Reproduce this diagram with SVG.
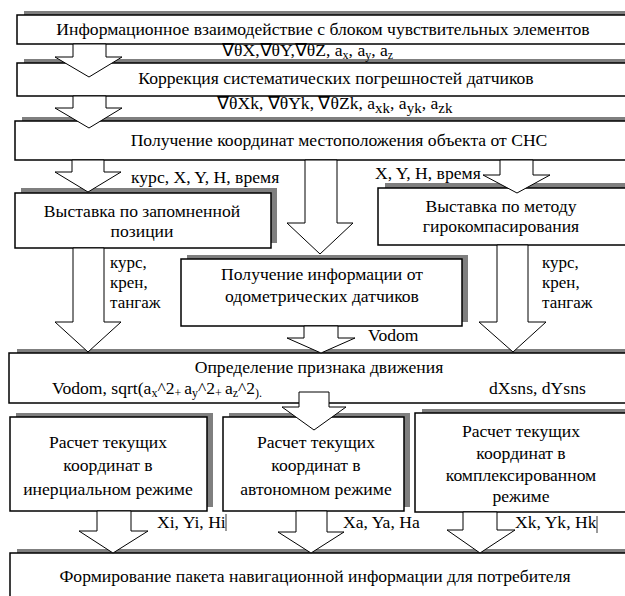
<svg xmlns="http://www.w3.org/2000/svg" width="625" height="596" viewBox="0 0 625 596">
<style>
.c{text-anchor:middle}
.box{fill:#fff;stroke:#000;stroke-width:1.5}
.sh{fill:#7f7f7f}
.arr{fill:#fff;stroke:#000;stroke-width:1}
.sub{font-size:12px}
.sub2{font-size:15px}
.sm{font-size:17px}
</style>
<rect width="625" height="596" fill="#fff"/>
<g id="n1" font-family="'Liberation Serif', serif" font-size="17.6"><rect class="sh" x="24" y="11" width="620" height="29"/><rect class="box" x="17" y="15" width="620" height="29"/><text class="c" x="323" y="35">Информационное взаимодействие с блоком чувствительных элементов</text></g>
<g id="n2" font-family="'Liberation Serif', serif" font-size="17.6"><rect class="sh" x="24" y="59" width="620" height="33"/><rect class="box" x="17" y="63" width="620" height="33"/><text class="c" x="336" y="84">Коррекция систематических погрешностей датчиков</text></g>
<g id="n3" font-family="'Liberation Serif', serif" font-size="17.6"><rect class="sh" x="22" y="117" width="620" height="39"/><rect class="box" x="15" y="121" width="620" height="39"/><text class="c" x="339" y="146">Получение координат местоположения объекта от СНС</text></g>
<g id="n4" font-family="'Liberation Serif', serif" font-size="17.6"><rect class="sh" x="21" y="188" width="256" height="55"/><rect class="box" x="15" y="193" width="256" height="55"/><text class="c" x="142" y="217">Выставка по запомненной</text><text class="c" x="142" y="237">позиции</text></g>
<g id="n5" font-family="'Liberation Serif', serif" font-size="17.6"><rect class="sh" x="385" y="183" width="260" height="57"/><rect class="box" x="378" y="188" width="260" height="57"/><text class="c" x="501" y="212">Выставка по методу</text><text class="c" x="501" y="232">гирокомпасирования</text></g>
<g id="n6" font-family="'Liberation Serif', serif" font-size="17.6"><rect class="sh" x="187" y="255" width="281" height="67"/><rect class="box" x="181" y="259" width="281" height="67"/><text class="c" x="322" y="280">Получение информации от</text><text class="c" x="322" y="302">одометрических датчиков</text></g>
<g id="n7" font-family="'Liberation Serif', serif" font-size="17.6"><rect class="sh" x="17" y="349" width="630" height="50"/><rect class="box" x="9" y="353" width="630" height="50"/><text class="c" x="319" y="373">Определение признака движения</text><text x="52" y="394">Vodom,  sqrt(a<tspan class="sub" dy="3">x</tspan><tspan dy="-3">^2</tspan><tspan class="sub" dy="3">+ </tspan><tspan dy="-3">a</tspan><tspan class="sub" dy="3">y</tspan><tspan dy="-3">^2</tspan><tspan class="sub" dy="3">+ </tspan><tspan dy="-3">a</tspan><tspan class="sub" dy="3">z</tspan><tspan dy="-3">^2</tspan><tspan class="sub" dy="3">).</tspan></text><text x="489" y="394">dXsns, dYsns</text></g>
<g id="n8" font-family="'Liberation Serif', serif" font-size="17.6"><rect class="sh" x="16" y="413" width="197" height="94"/><rect class="box" x="10" y="417" width="197" height="94"/><text class="c" x="108" y="448">Расчет текущих</text><text class="c" x="108" y="471">координат в</text><text class="c" x="108" y="495">инерциальном режиме</text></g>
<g id="n9" font-family="'Liberation Serif', serif" font-size="17.6"><rect class="sh" x="229" y="413" width="181" height="94"/><rect class="box" x="223" y="417" width="181" height="94"/><text class="c" x="316" y="448">Расчет текущих</text><text class="c" x="316" y="471">координат в</text><text class="c" x="316" y="495">автономном режиме</text></g>
<g id="n10" font-family="'Liberation Serif', serif" font-size="17.6"><rect class="sh" x="422" y="409" width="220" height="99"/><rect class="box" x="415" y="413" width="220" height="99"/><text class="c" x="521" y="437">Расчет текущих</text><text class="c" x="521" y="459">координат в</text><text class="c" x="521" y="481">комплексированном</text><text class="c" x="521" y="502">режиме</text></g>
<g id="n11" font-family="'Liberation Serif', serif" font-size="17.6"><rect class="sh" x="17" y="549" width="630" height="60"/><rect class="box" x="10" y="553" width="630" height="60"/><text class="c" x="315" y="582">Формирование пакета навигационной информации для потребителя</text></g>
<g id="connectors">
<polygon class="arr" points="73,44 106,44 106,57 122,57 89,77 55,57 73,57"/>
<polygon class="arr" points="73,96 106,96 106,108 122,108 89,128 55,108 73,108"/>
<polygon class="arr" points="72,160 104,160 104,172 121,172 88,192 55,172 72,172"/>
<polygon class="arr" points="305,160 337,160 337,223 353,223 320,254 287,223 305,223"/>
<polygon class="arr" points="500,160 533,160 533,175 550,175 517,193 483,175 500,175"/>
<polygon class="arr" points="73,248 104,248 104,322 121,322 88,352 55,322 73,322"/>
<polygon class="arr" points="304,326 338,326 338,338 355,338 321,353 287,338 304,338"/>
<polygon class="arr" points="497,245 528,245 528,322 546,322 513,352 479,322 497,322"/>
<polygon class="arr" points="299,392 329,392 329,407 346,407 314,430 282,407 299,407"/>
<polygon class="arr" points="97,511 131,511 131,531 148,531 113,553 79,531 97,531"/>
<polygon class="arr" points="296,511 327,511 327,532 344,532 311,553 278,532 296,532"/>
<polygon class="arr" points="463,512 497,512 497,530 515,530 480,553 447,530 463,530"/>
</g>
<g id="labels" font-family="'Liberation Serif', serif" font-size="17.6">
<text x="222" y="56">∇θX,∇θY,∇θZ, a<tspan class="sub" dy="3">x</tspan><tspan dy="-3">, a</tspan><tspan class="sub" dy="3">y</tspan><tspan dy="-3">, a</tspan><tspan class="sub" dy="3">z</tspan></text>
<text x="217" y="109">∇θXk, ∇θYk, ∇θZk, a<tspan class="sub2" dy="4">xk</tspan><tspan dy="-4">, a</tspan><tspan class="sub2" dy="4">yk</tspan><tspan dy="-4">, a</tspan><tspan class="sub2" dy="4">zk</tspan></text>
<text x="131" y="183">курс, X, Y, H, время</text>
<text x="375" y="179">X, Y, H, время</text>
<text class="sm" x="110" y="268">курс,</text><text class="sm" x="110" y="288">крен,</text><text class="sm" x="110" y="308">тангаж</text>
<text class="sm" x="542" y="268">курс,</text><text class="sm" x="542" y="288">крен,</text><text class="sm" x="542" y="308">тангаж</text>
<text x="368" y="341">Vodom</text>
<text x="157" y="528">Xi, Yi, Hi</text>
<text x="343" y="528">Xa, Ya, Ha</text>
<text x="515" y="528">Xk, Yk, Hk</text>
<line x1="226" y1="514" x2="226" y2="531" stroke="#000" stroke-width="0.8"/>
<line x1="597" y1="516" x2="597" y2="533" stroke="#000" stroke-width="0.8"/>
</g>
</svg>
